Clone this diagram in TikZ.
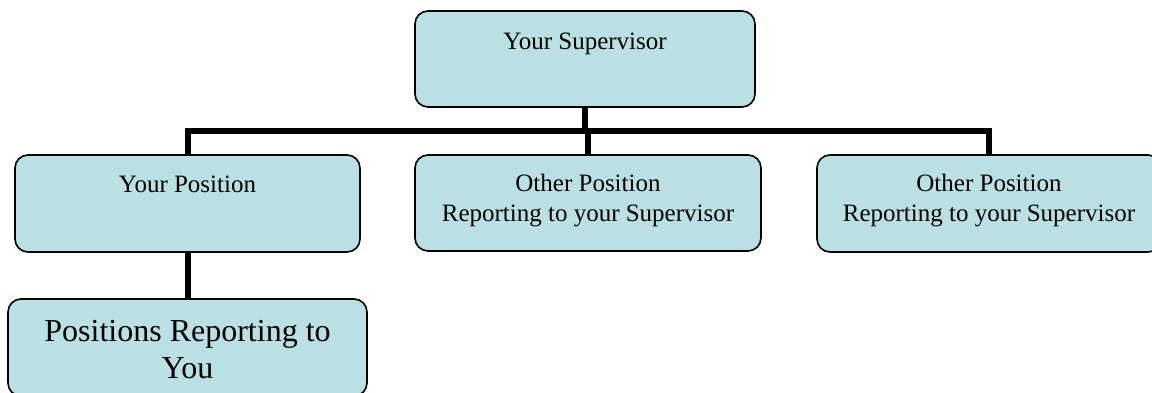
\documentclass[tikz,border=0pt]{standalone}
\usepackage{fontspec}
\setmainfont{Liberation Serif}
\definecolor{boxfill}{RGB}{187,224,227}
\begin{document}
\begin{tikzpicture}[x=1pt,y=-1pt,
  box/.style={draw=black,line width=1.6pt,fill=boxfill,rounded corners=13pt,
    minimum height=96pt,inner sep=0pt},
  lbl/.style={anchor=north,inner sep=0pt,align=center,text=black,
    font=\fontsize{25}{30}\selectfont},
  biglbl/.style={anchor=north,inner sep=0pt,align=center,text=black,
    font=\fontsize{32}{37}\selectfont},
  conn/.style={draw=black,line width=6pt,line join=miter}]
\useasboundingbox (0,0) rectangle (1152,393);
\coordinate (bar) at (0,131);
% connectors
\node[box,minimum width=340pt] (sup) at (585,59) {};
\node[box,minimum width=345pt,minimum height=97pt] (pos) at (187.5,203.5) {};
\node[box,minimum width=346pt] (oth1) at (588,203) {};
\node[box,minimum width=344pt,minimum height=97pt] (oth2) at (989,203.5) {};
\node[box,minimum width=359pt,minimum height=97pt] (rep) at (187.5,347.5) {};
\draw[conn] (sup.south) -- (sup.south |- bar);
\draw[conn] (pos.north) -- (pos.north |- bar) -- (oth2.north |- bar) -- (oth2.north);
\draw[conn] (oth1.north |- bar) -- (oth1.north);
\draw[conn] (pos.south) -- (rep.north);
% labels
\node[lbl] (supt) at ([yshift=-18pt]sup.north) {\strut Your Supervisor};
\node[lbl] (post) at ([yshift=-17pt]pos.north) {\strut Your Position};
\node[lbl] (oth1t) at ([yshift=-16pt]oth1.north) {\strut Other Position\\Reporting to your Supervisor};
\node[lbl] (oth2t) at ([yshift=-16pt]oth2.north) {\strut Other Position\\Reporting to your Supervisor};
\node[biglbl] (rept) at ([yshift=-17pt]rep.north) {\strut Positions Reporting to\\You};
\end{tikzpicture}
\end{document}
